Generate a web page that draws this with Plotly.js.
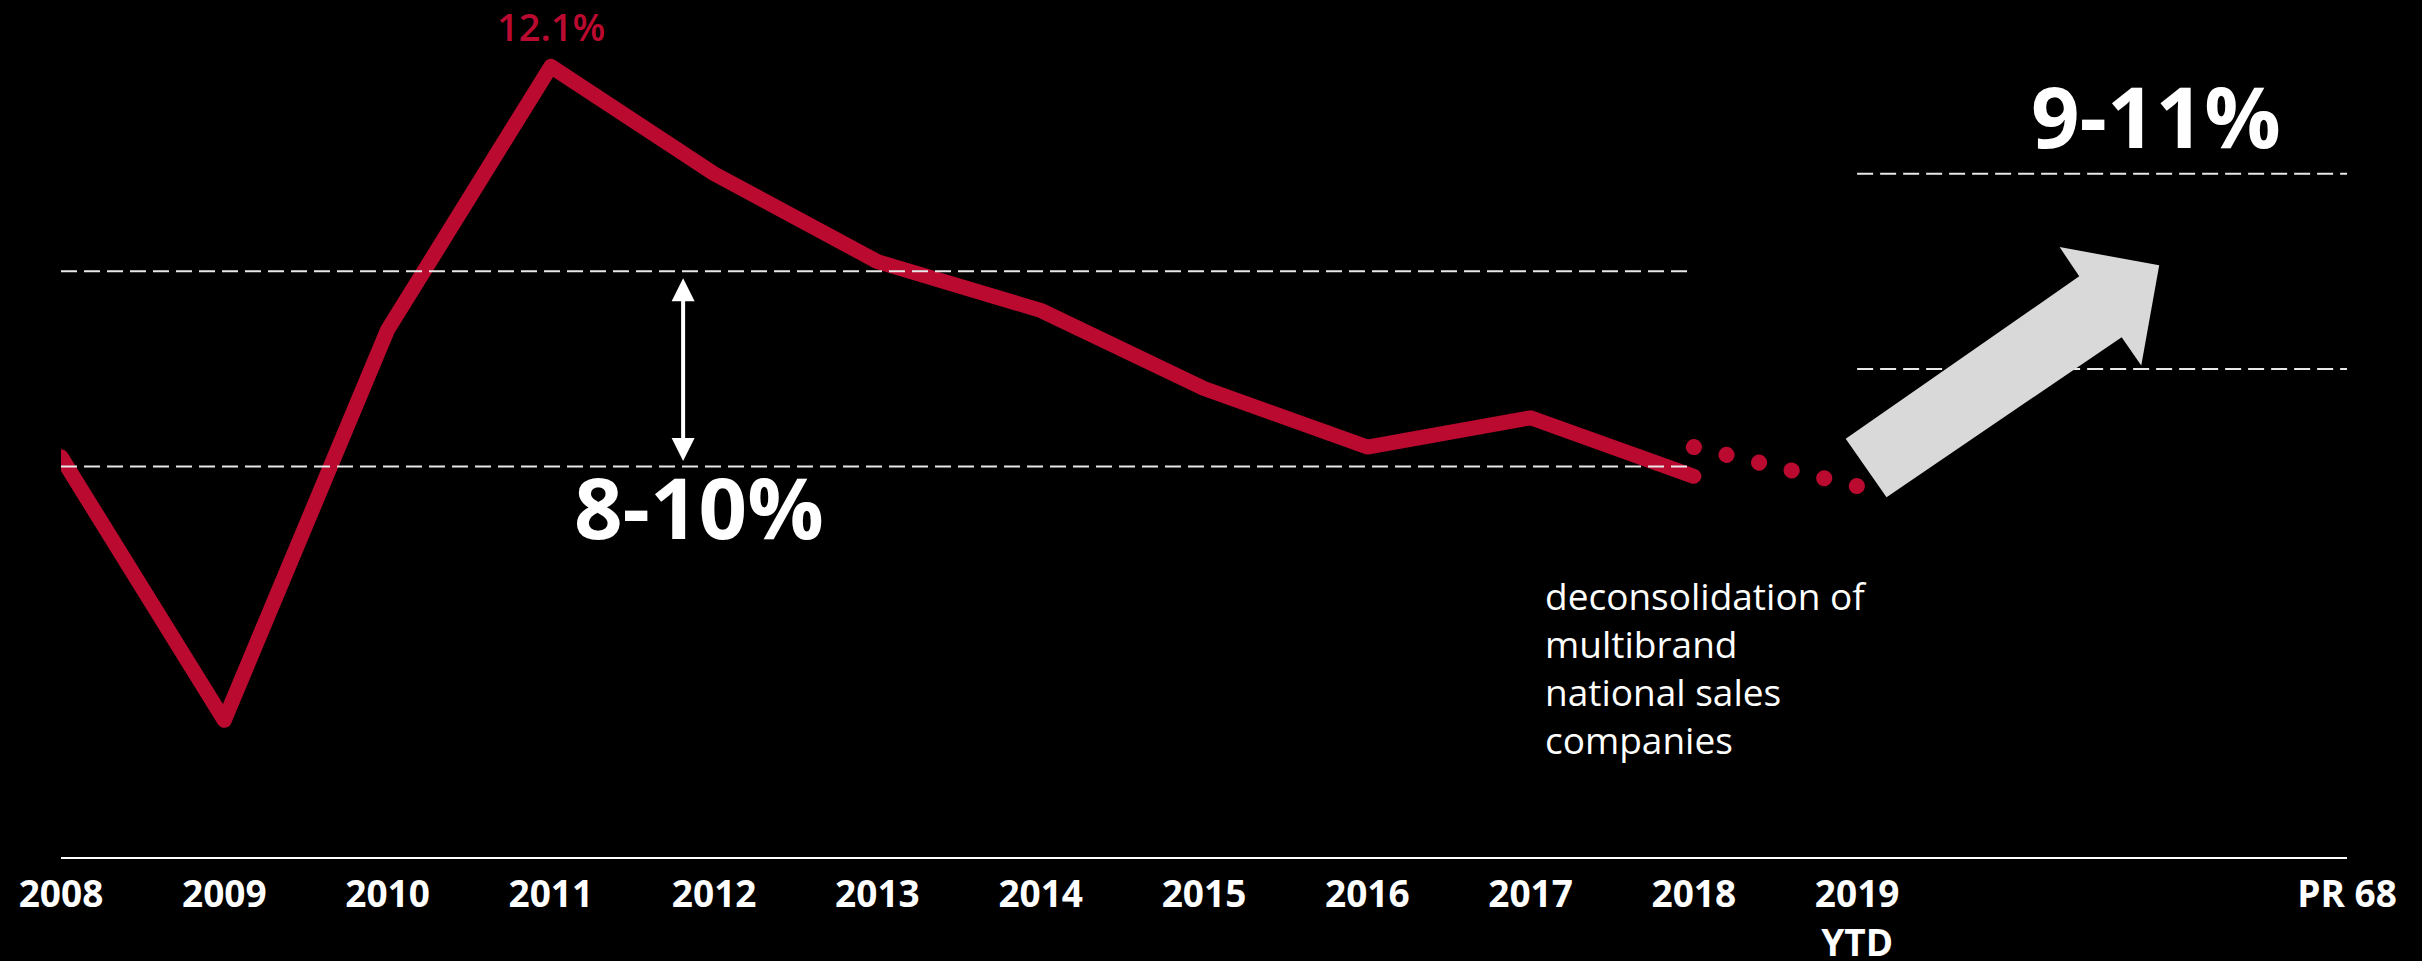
<!DOCTYPE html>
<html>
<head>
<meta charset="utf-8">
<script src="https://cdn.plot.ly/plotly-3.0.1.min.js"></script>
<style>
  html, body { margin: 0; padding: 0; background: #000; }
  #chart { width: 2422px; height: 961px; }
  .scatterlayer .js-line { stroke-linecap: round; stroke-linejoin: round; }
</style>
</head>
<body>
<div id="chart"></div>
<script>
// ---- data ----
const years = ['2008','2009','2010','2011','2012','2013','2014','2015','2016','2017','2018'];
const margin = [8.1, 5.4, 9.4, 12.1, 11.0, 10.1, 9.6, 8.8, 8.2, 8.5, 7.9];
const restatedYears = ['2018', '2019<br>YTD'];
const restatedMargin = [8.2, 7.8];
const tickLabels = ['2008','2009','2010','2011','2012','2013','2014','2015','2016','2017','2018','2019<br>YTD','PR 68'];
const tickPositions = [0,1,2,3,4,5,6,7,8,9,10,11,14];
const oldCorridor = [8, 10];
const newCorridor = [9, 11];
const peakIndex = 3;

// decoration: big arrow outline (data-space)
const bigArrowX = [10.93, 11.18, 12.62, 12.74, 12.85, 12.24, 12.36];
const bigArrowY = [8.284, 7.685, 9.326, 9.036, 10.062, 10.249, 9.949];

const RED = '#bb0a30';
const xIdx = margin.map((_, i) => i);

const traces = [
  {
    x: xIdx, y: margin, type: 'scatter', mode: 'lines',
    line: { color: RED, width: 15 }, hoverinfo: 'skip'
  },
  {
    x: [10, 11], y: restatedMargin, type: 'scatter', mode: 'lines',
    line: { color: RED, width: 16, dash: '0.1px,33.4px' }, hoverinfo: 'skip'
  }
];

const dashStyle = { color: '#e8e8e8', width: 2, dash: '16px,7px' };
let path = 'M' + bigArrowX.map((x, i) => x + ',' + bigArrowY[i]).join(' L') + ' Z';

const shapes = [
  { type: 'line', xref: 'x', yref: 'y', x0: 0, x1: 10, y0: oldCorridor[1], y1: oldCorridor[1], line: dashStyle },
  { type: 'line', xref: 'x', yref: 'y', x0: 0, x1: 10, y0: oldCorridor[0], y1: oldCorridor[0], line: dashStyle },
  { type: 'line', xref: 'x', yref: 'y', x0: 11, x1: 14, y0: newCorridor[1], y1: newCorridor[1], line: dashStyle },
  { type: 'line', xref: 'x', yref: 'y', x0: 11, x1: 14, y0: newCorridor[0], y1: newCorridor[0], line: dashStyle },
  { type: 'path', xref: 'x', yref: 'y', path: path, fillcolor: '#d9d9d9', line: { width: 0 }, layer: 'above' }
];

const annotations = [
  {
    x: peakIndex, y: margin[peakIndex], xref: 'x', yref: 'y',
    text: margin[peakIndex].toFixed(1) + '%', showarrow: false,
    yshift: 40, yanchor: 'middle',
    font: { family: 'Open Sans', size: 38, color: RED, weight: 600 }
  },
  {
    x: 3.81, y: oldCorridor[1], ax: 3.81, ay: oldCorridor[0], xref: 'x', yref: 'y', axref: 'x', ayref: 'y',
    text: '', showarrow: true, arrowside: 'end+start',
    arrowhead: 2, startarrowhead: 2, arrowsize: 1.15, startarrowsize: 1.15,
    arrowwidth: 4, arrowcolor: '#ffffff', standoff: 7, startstandoff: 4
  },
  {
    x: 3.91, y: 7.6, xref: 'x', yref: 'y',
    text: oldCorridor[0] + '-' + oldCorridor[1] + '%', showarrow: false,
    font: { family: 'Open Sans', size: 85, color: '#ffffff', weight: 700 }
  },
  {
    x: 12.83, y: 11.6, xref: 'x', yref: 'y',
    text: newCorridor[0] + '-' + newCorridor[1] + '%', showarrow: false,
    font: { family: 'Open Sans', size: 85, color: '#ffffff', weight: 700 }
  },
  {
    x: 9.075, y: 5.94, xref: 'x', yref: 'y', xanchor: 'left', yanchor: 'middle', align: 'left',
    text: 'deconsolidation of<br>multibrand<br>national sales<br>companies', showarrow: false,
    font: { family: 'Open Sans', size: 37, color: '#ffffff' }
  }
];

const layout = {
  width: 2422, height: 961,
  margin: { l: 61, r: 75, t: 0, b: 104, pad: 0 },
  paper_bgcolor: '#000', plot_bgcolor: '#000',
  showlegend: false,
  xaxis: {
    range: [0, 14], tickvals: tickPositions, ticktext: tickLabels,
    showgrid: false, zeroline: false, showline: true, linecolor: '#ffffff', linewidth: 2,
    ticks: 'outside', ticklen: 4, tickcolor: 'rgba(0,0,0,0)',
    tickfont: { family: 'Open Sans', size: 37, color: '#ffffff', weight: 700 }
  },
  yaxis: {
    range: [4.0, 12.78], visible: false, showgrid: false, zeroline: false
  },
  shapes: shapes,
  annotations: annotations
};

Plotly.newPlot('chart', traces, layout, { staticPlot: true, displayModeBar: false });
</script>
</body>
</html>
